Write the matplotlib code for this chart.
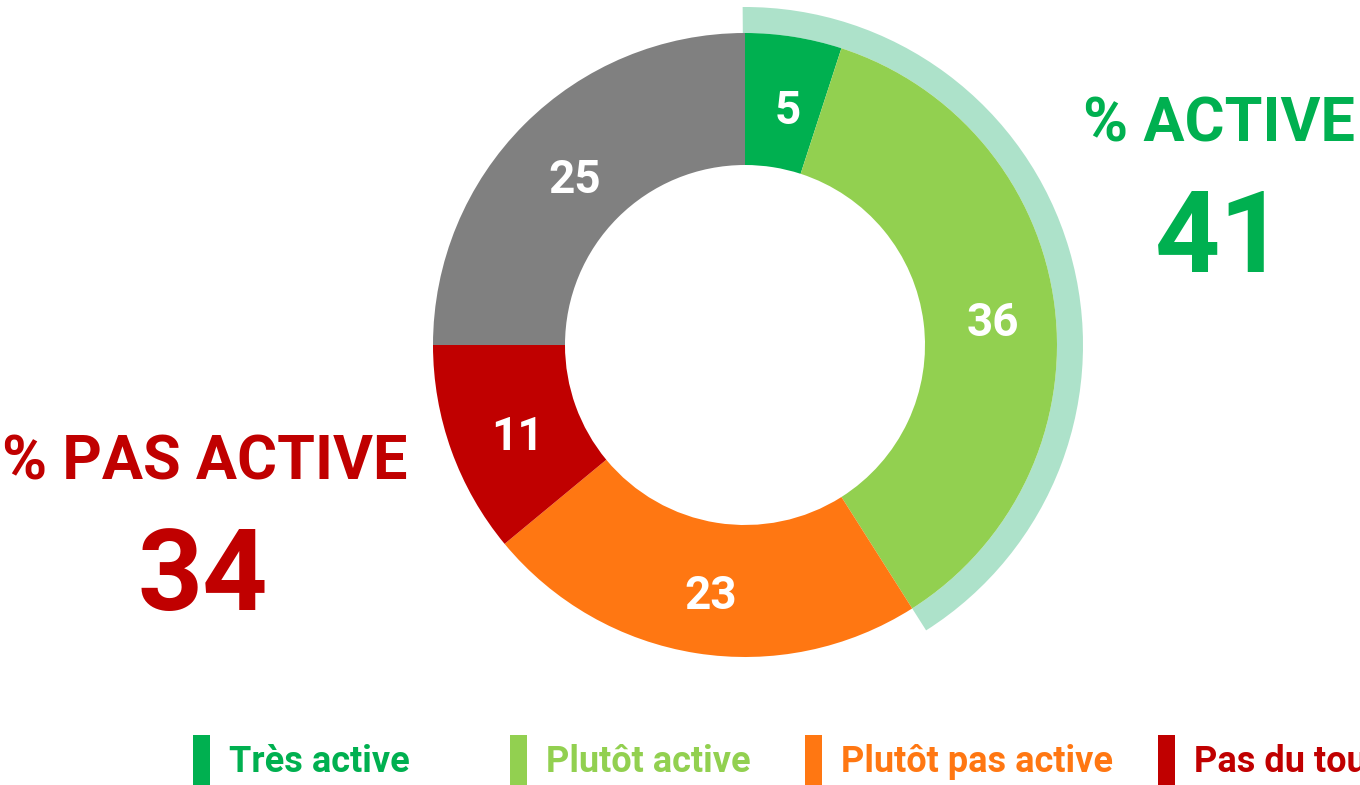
import matplotlib
matplotlib.use("Agg")
import matplotlib.pyplot as plt
from matplotlib.patches import Wedge, Rectangle
import numpy as np

plt.rcParams['font.family'] = ['Roboto', 'DejaVu Sans']

categories = ["Très active", "Plutôt active", "Plutôt pas active", "Pas du tout active", "Ne sait pas"]
values = [5, 36, 23, 11, 25]
colors = ["#00B050", "#92D050", "#FF7712", "#C00000", "#808080"]
legend_labels = ["Très active", "Plutôt active", "Plutôt pas active", "Pas du tout active"]
active_label = "% ACTIVE"
inactive_label = "% PAS ACTIVE"

W, H = 1360, 785
fig = plt.figure(figsize=(W / 100, H / 100), dpi=100)
ax = fig.add_axes([0, 0, 1, 1])

cx, cy = 745, H - 345
R, w = 312, 132

ax.pie(values, colors=colors, radius=R, center=(cx, cy), startangle=90,
       counterclock=False, wedgeprops=dict(width=w, linewidth=0))

total = sum(values)
active = values[0] + values[1]
inactive = values[2] + values[3]

# highlight arc for "active"
theta2 = 90 + 0.4
theta1 = 90 - 360 * active / total
ax.add_patch(Wedge((cx, cy), R + 26, theta1, theta2, width=26,
                   facecolor="#ADE2CA", edgecolor="none", zorder=0))

# value labels
cum = 0
rl = R - w / 2
for v in values:
    mid = cum + v / 2
    ang = np.deg2rad(90 - 360 * mid / total)
    x = cx + rl * np.cos(ang)
    y = cy + rl * np.sin(ang)
    ax.text(x + 4, y - 4, f"{v}", color="white", fontsize=33, fontweight="bold",
            ha="center", va="center_baseline")
    cum += v

# summary texts
green = "#00B050"
red = "#C00000"
ax.text(1219, H - 142, active_label, color=green, fontsize=44, fontweight="bold",
        ha="center", va="baseline")
ax.text(1220, H - 272, f"{active}", color=green, fontsize=82, fontweight="bold",
        ha="center", va="baseline")
ax.text(205, H - 480, inactive_label, color=red, fontsize=44, fontweight="bold",
        ha="center", va="baseline")
ax.text(203, H - 610, f"{inactive}", color=red, fontsize=82, fontweight="bold",
        ha="center", va="baseline")

# legend
mx = [193, 510, 805, 1158]
for x0, lab, col in zip(mx, legend_labels, colors[:4]):
    ax.add_patch(Rectangle((x0, 0), 17, 50, facecolor=col, edgecolor="none"))
    ax.text(x0 + 36, 13, lab, color=col, fontsize=26, fontweight="bold",
            ha="left", va="baseline")

ax.set_xlim(0, W)
ax.set_ylim(0, H)
ax.set_aspect("equal")
ax.axis("off")

fig.savefig("out.png", dpi=100)
